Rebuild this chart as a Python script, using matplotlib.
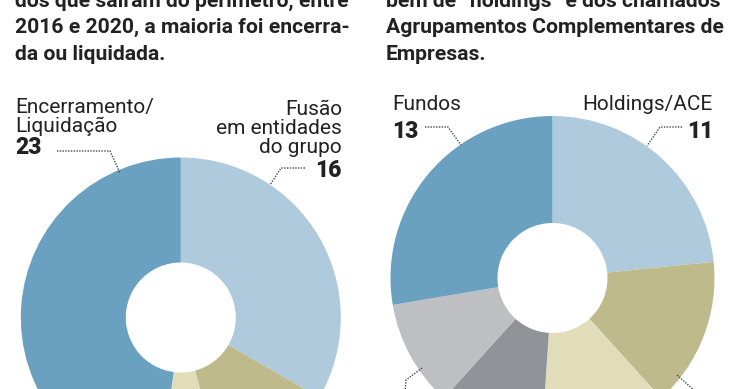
import matplotlib.pyplot as plt

# dados
saidas_labels = ["Fusão\nem entidades\ndo grupo", "", "", "Encerramento/\nLiquidação"]
saidas_vals = [16, 6, 3, 23]
saidas_cores = ["#aecadc", "#bfba8c", "#e1ddba", "#6aa1c0"]

tipos_labels = ["Holdings/ACE", "", "", "", "", "Fundos"]
tipos_vals = [11, 7, 6, 5, 5, 13]
tipos_cores = ["#aecadc", "#bfba8c", "#e1ddba", "#909398", "#bdbfc3", "#6aa1c0"]

texto_esq = ["dos que saíram do perímetro, entre",
             "2016 e 2020, a maioria foi encerra-",
             "da ou liquidada."]
texto_dir = ["bem de \u201choldings\u201d e dos chamados",
             "Agrupamentos Complementares de",
             "Empresas."]

plt.rcParams['font.family'] = ['Roboto', 'DejaVu Sans']

W, H = 740, 389
fig = plt.figure(figsize=(7.4, 3.89), dpi=100)
ax = fig.add_axes([0, 0, 1, 1])
ink = "#222222"

def Y(y):
    return H - y

# donuts
ax.pie(saidas_vals, colors=saidas_cores, startangle=90, counterclock=False,
       center=(180.8, Y(317.5)), radius=160,
       wedgeprops=dict(width=105, linewidth=0))
ax.pie(tipos_vals, colors=tipos_cores, startangle=90, counterclock=False,
       center=(552.5, Y(278)), radius=162,
       wedgeprops=dict(width=107, linewidth=0))

ax.set_xlim(0, W)
ax.set_ylim(0, H)
ax.set_aspect('auto')
ax.axis('off')

# texto de cima
for i, t in enumerate(texto_esq):
    ax.text(15, Y(6.5 + 26.7 * i), t, fontsize=15.2, fontweight='bold', color=ink,
            ha='left', va='baseline')
for i, t in enumerate(texto_dir):
    ax.text(386, Y(6.5 + 26.7 * i), t, fontsize=15.2, fontweight='bold', color=ink,
            ha='left', va='baseline')

# rótulos
lab = dict(fontsize=15, color=ink, va='baseline')
num = dict(fontsize=16.5, fontweight='black', color=ink, va='baseline')

ax.text(15, Y(113), saidas_labels[3].split("\n")[0], ha='left', **lab)
ax.text(15, Y(132), saidas_labels[3].split("\n")[1], ha='left', **lab)
ax.text(15, Y(154), str(saidas_vals[3]), ha='left', **num)
for i, t in enumerate(saidas_labels[0].split("\n")):
    ax.text(342, Y(115 + 19 * i), t, ha='right', **lab)
ax.text(342, Y(177), str(saidas_vals[0]), ha='right', **num)

ax.text(392, Y(110), tipos_labels[5], ha='left', **lab)
ax.text(392, Y(138), str(tipos_vals[5]), ha='left', **num)
ax.text(713, Y(110), tipos_labels[0], ha='right', **lab)
ax.text(713, Y(138), str(tipos_vals[0]), ha='right', **num)

# linhas de chamada
ld = dict(color="#444444", lw=1, ls=(0, (1, 1)))
ax.plot([57, 110, 120], [Y(151), Y(151), Y(173)], **ld)
ax.plot([305, 281, 270], [Y(168), Y(168), Y(185)], **ld)
ax.plot([425, 448, 461], [Y(127), Y(127), Y(145)], **ld)
ax.plot([682, 660, 647], [Y(127), Y(127), Y(146)], **ld)
ax.plot([422, 406, 405], [Y(368), Y(380), Y(392)], **ld)
ax.plot([677, 696], [Y(375), Y(392)], **ld)

fig.savefig("out.png", dpi=100)
